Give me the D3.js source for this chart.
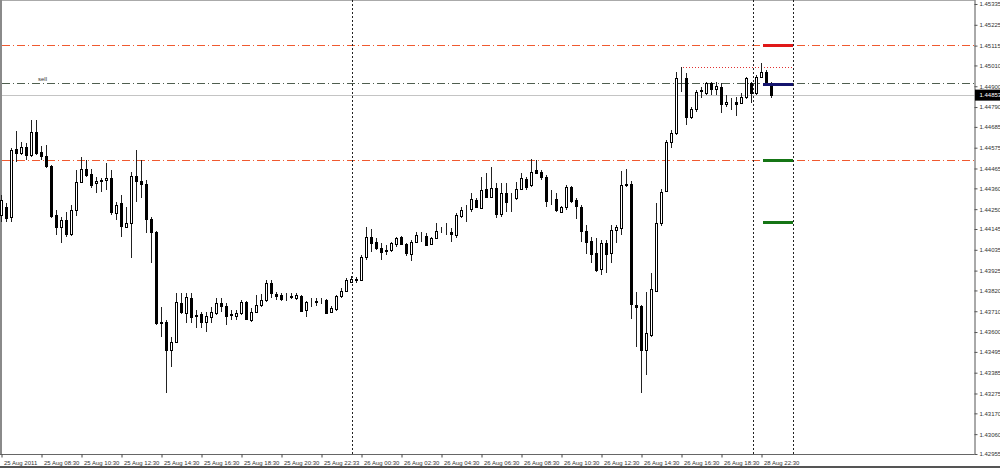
<!DOCTYPE html>
<html><head><meta charset="utf-8">
<script src="https://cdn.jsdelivr.net/npm/d3@7"></script>
<style>
html,body{margin:0;padding:0;background:#fff;}
svg{display:block;font-family:"Liberation Sans",Arial,sans-serif;}
</style></head>
<body>
<svg id="c" width="1000" height="468"></svg>
<script>
// ---- DATA (M15 candles, 25-28 Aug 2011) ----
const opens = [1.44219,1.44261,1.44208,1.44568,1.44547,1.44578,1.44536,1.44658,1.44552,1.44531,
1.44478,1.44219,1.44155,1.44192,1.44118,1.44245,1.44393,1.44462,1.44436,1.44388,
1.44399,1.44404,1.44414,1.44229,1.44282,1.44155,1.44176,1.44425,1.44399,1.44383,
1.44197,1.44129,1.43647,1.43653,1.43504,1.43547,1.43753,1.43700,1.43780,1.43684,
1.43695,1.43653,1.43679,1.43700,1.43753,1.43737,1.43690,1.43684,1.43700,1.43758,
1.43663,1.43706,1.43743,1.43769,1.43859,1.43801,1.43795,1.43780,1.43785,1.43780,
1.43790,1.43716,1.43758,1.43758,1.43764,1.43769,1.43706,1.43721,1.43790,1.43817,
1.43864,1.43875,1.43875,1.43996,1.44102,1.44076,1.44044,1.44028,1.44033,1.44065,
1.44102,1.44065,1.44012,1.44076,1.44108,1.44108,1.44065,1.44097,1.44134,1.44129,
1.44129,1.44113,1.44213,1.44250,1.44250,1.44298,1.44256,1.44356,1.44314,1.44361,
1.44224,1.44335,1.44309,1.44309,1.44356,1.44409,1.44377,1.44457,1.44446,1.44420,
1.44298,1.44303,1.44235,1.44261,1.44367,1.44298,1.44261,1.44134,1.44081,1.44018,
1.43933,1.44071,1.44018,1.44139,1.44150,1.44377,1.44383,1.43743,1.43737,1.43504,
1.43584,1.43817,1.44176,1.44346,1.44605,1.44652,1.44943,1.44943,1.44737,1.44779,
1.44875,1.44864,1.44917,1.44885,1.44896,1.44806,1.44816,1.44816,1.44811,1.44843,
1.44917,1.44864,1.44949,1.44975,1.44917];
const highs = [1.44324,1.44282,1.44573,1.44663,1.44605,1.44600,1.44721,1.44721,1.44584,1.44589,
1.44483,1.44245,1.44208,1.44235,1.44272,1.44457,1.44525,1.44510,1.44462,1.44420,
1.44414,1.44494,1.44457,1.44287,1.44324,1.44261,1.44446,1.44562,1.44510,1.44404,
1.44208,1.44134,1.43732,1.43663,1.43573,1.43806,1.43806,1.43806,1.43806,1.43716,
1.43706,1.43706,1.43732,1.43780,1.43780,1.43753,1.43716,1.43716,1.43769,1.43764,
1.43727,1.43795,1.43801,1.43875,1.43875,1.43811,1.43806,1.43806,1.43806,1.43806,
1.43795,1.43764,1.43780,1.43780,1.43780,1.43774,1.43737,1.43795,1.43832,1.43885,
1.43896,1.43891,1.44007,1.44155,1.44145,1.44097,1.44071,1.44060,1.44076,1.44102,
1.44108,1.44071,1.44086,1.44129,1.44129,1.44123,1.44102,1.44176,1.44155,1.44176,
1.44150,1.44229,1.44261,1.44272,1.44335,1.44309,1.44420,1.44441,1.44473,1.44388,
1.44388,1.44388,1.44335,1.44393,1.44441,1.44420,1.44515,1.44510,1.44457,1.44430,
1.44351,1.44335,1.44266,1.44377,1.44372,1.44309,1.44272,1.44166,1.44102,1.44097,
1.44086,1.44086,1.44166,1.44166,1.44451,1.44462,1.44399,1.43811,1.43743,1.43811,
1.43912,1.44282,1.44356,1.44615,1.44668,1.44975,1.45002,1.44970,1.44790,1.44880,
1.44896,1.44922,1.44922,1.44922,1.44917,1.44853,1.44838,1.44843,1.44864,1.44949,
1.44922,1.44959,1.45023,1.44986,1.44922];
const lows = [1.44182,1.44182,1.44182,1.44499,1.44536,1.44510,1.44525,1.44536,1.44510,1.44467,
1.44203,1.44113,1.44071,1.44102,1.44108,1.44213,1.44388,1.44420,1.44361,1.44335,
1.44340,1.44351,1.44219,1.44192,1.44102,1.44150,1.43991,1.44287,1.44309,1.44123,
1.43965,1.43637,1.43573,1.43277,1.43415,1.43542,1.43695,1.43647,1.43647,1.43621,
1.43621,1.43600,1.43647,1.43690,1.43706,1.43637,1.43663,1.43663,1.43690,1.43663,
1.43653,1.43700,1.43732,1.43758,1.43780,1.43769,1.43764,1.43764,1.43774,1.43769,
1.43706,1.43679,1.43732,1.43737,1.43748,1.43695,1.43700,1.43711,1.43780,1.43811,
1.43859,1.43859,1.43870,1.43981,1.44023,1.44033,1.43981,1.44007,1.44023,1.44049,
1.44060,1.44002,1.43975,1.44071,1.44076,1.44055,1.44060,1.44092,1.44123,1.44113,
1.44076,1.44097,1.44203,1.44182,1.44235,1.44256,1.44250,1.44309,1.44309,1.44203,
1.44208,1.44235,1.44235,1.44298,1.44351,1.44351,1.44367,1.44436,1.44404,1.44261,
1.44272,1.44235,1.44229,1.44245,1.44282,1.44197,1.44076,1.44012,1.43965,1.43917,
1.43901,1.43912,1.43965,1.44071,1.44113,1.44367,1.43668,1.43520,1.43277,1.43372,
1.43573,1.43811,1.44160,1.44340,1.44573,1.44642,1.44869,1.44695,1.44726,1.44764,
1.44838,1.44853,1.44853,1.44853,1.44758,1.44790,1.44774,1.44742,1.44806,1.44832,
1.44811,1.44853,1.44943,1.44906,1.44838];
const closes = [1.44298,1.44203,1.44562,1.44547,1.44578,1.44536,1.44658,1.44547,1.44531,1.44478,
1.44213,1.44155,1.44192,1.44118,1.44245,1.44393,1.44462,1.44430,1.44377,1.44399,
1.44404,1.44414,1.44235,1.44272,1.44160,1.44176,1.44425,1.44399,1.44383,1.44197,
1.44129,1.43647,1.43653,1.43504,1.43547,1.43758,1.43706,1.43785,1.43679,1.43690,
1.43653,1.43684,1.43706,1.43753,1.43737,1.43684,1.43695,1.43700,1.43758,1.43668,
1.43706,1.43743,1.43769,1.43859,1.43806,1.43790,1.43774,1.43780,1.43790,1.43795,
1.43711,1.43758,1.43758,1.43764,1.43764,1.43700,1.43727,1.43790,1.43817,1.43875,
1.43880,1.43880,1.43996,1.44102,1.44071,1.44044,1.44023,1.44033,1.44071,1.44097,
1.44065,1.44018,1.44076,1.44113,1.44108,1.44060,1.44097,1.44134,1.44134,1.44129,
1.44118,1.44219,1.44245,1.44250,1.44303,1.44261,1.44351,1.44314,1.44361,1.44224,
1.44335,1.44287,1.44309,1.44356,1.44414,1.44367,1.44446,1.44441,1.44420,1.44293,
1.44298,1.44245,1.44261,1.44367,1.44293,1.44266,1.44134,1.44076,1.44012,1.43928,
1.44071,1.44012,1.44139,1.44155,1.44377,1.44383,1.43748,1.43732,1.43504,1.43594,
1.43827,1.44176,1.44340,1.44605,1.44652,1.44943,1.44943,1.44737,1.44779,1.44869,
1.44880,1.44917,1.44885,1.44901,1.44806,1.44816,1.44816,1.44806,1.44843,1.44943,
1.44864,1.44949,1.44975,1.44917,1.44853];

const timeLabels = ["25 Aug 2011","25 Aug 08:30","25 Aug 10:30","25 Aug 12:30","25 Aug 14:30","25 Aug 16:30",
"25 Aug 18:30","25 Aug 20:30","25 Aug 22:33","26 Aug 00:30","26 Aug 02:30","26 Aug 04:30","26 Aug 06:30",
"26 Aug 08:30","26 Aug 10:30","26 Aug 12:30","26 Aug 14:30","26 Aug 16:30","26 Aug 18:30","28 Aug 22:30"];
const timeLabelBars = [0,8,16,24,32,40,48,56,64,72,80,88,96,104,112,120,128,136,144,152];
const priceTicks = [1.45335,1.45225,1.45115,1.45010,1.44900,1.44790,1.44685,1.44575,1.44465,1.44360,1.44250,
1.44145,1.44035,1.43925,1.43820,1.43710,1.43600,1.43495,1.43385,1.43275,1.43170,1.43060,1.42955];
const currentPrice = 1.44853;

// horizontal levels across the chart
const levelPrices = [1.45115, 1.44912, 1.44505];
const levelColors = ["#f05a30", "#4f5f4f", "#f05a30"];
// short trade markers at right
const markerPrices = [1.45115, 1.44909, 1.44505, 1.44182];
const markerColors = ["#e01818", "#14146e", "#157515", "#157515"];
const markerFromBar = 152.3, markerToBar = 158.3;
// dotted high line
const highLinePrice = 1.45004, highLineFromBar = 136.3;
// vertical separators (bar index)
const separatorBars = [70.1, 150.3, 158.3];

// ---- LAYOUT ----
const W = 1000, H = 468;
const plotRight = 974.5, plotBottom = 454.5;
const svg = d3.select("#c");

const n = opens.length;
const x = d3.scaleLinear().domain([0, n - 1]).range([1.5, 1.5 + 5 * (n - 1)]);
const y = d3.scaleLinear().domain([1.42955, 1.45335]).range([454, 4]);

// frame
svg.append("rect").attr("x",0).attr("y",0).attr("width",W).attr("height",H).attr("fill","#fff");
svg.append("line").attr("x1",0).attr("x2",plotRight).attr("y1",0.5).attr("y2",0.5).attr("stroke","#aaa");
svg.append("rect").attr("x",0).attr("y",0).attr("width",2).attr("height",plotBottom).attr("fill","#8a8a8a");
svg.append("line").attr("x1",0).attr("x2",plotRight).attr("y1",plotBottom).attr("y2",plotBottom).attr("stroke","#666");
svg.append("rect").attr("x",0).attr("y",466).attr("width",W).attr("height",2).attr("fill","#555");

// current price line
svg.append("line").attr("x1",2).attr("x2",plotRight).attr("y1",Math.round(y(currentPrice))+0.5).attr("y2",Math.round(y(currentPrice))+0.5)
  .attr("stroke","#c4c4c4").attr("stroke-width",1);

// horizontal levels
levelPrices.forEach((p,k)=>{
  const yy = Math.floor(y(p)) + 0.5;
  svg.append("path")
    .attr("d", `M2,${yy}H${plotRight}`)
    .attr("fill","none")
    .attr("stroke", levelColors[k]).attr("stroke-width",1).attr("stroke-dasharray","8,3,1,3");
});
svg.append("text").attr("x",38).attr("y",Math.round(y(levelPrices[1]))-3)
  .attr("font-size",6).attr("fill","#333").text("sell");

// vertical separators
svg.append("g").selectAll("line").data(separatorBars).join("line")
  .attr("x1",b=>Math.round(x(b))+0.5).attr("x2",b=>Math.round(x(b))+0.5)
  .attr("y1",0).attr("y2",plotBottom)
  .attr("stroke","#222").attr("stroke-width",1).attr("stroke-dasharray","2,2");

// dotted high line
svg.append("line").attr("x1",x(highLineFromBar)).attr("x2",x(markerToBar))
  .attr("y1",Math.round(y(highLinePrice))+0.5).attr("y2",Math.round(y(highLinePrice))+0.5)
  .attr("stroke","#e03030").attr("stroke-width",1).attr("stroke-dasharray","1,2");

// candles
const g = svg.append("g");
const idx = d3.range(n);
g.selectAll("line.w").data(idx).join("line").attr("class","w")
  .attr("x1",i=>x(i)).attr("x2",i=>x(i))
  .attr("y1",i=>Math.round(y(highs[i]))).attr("y2",i=>Math.round(y(lows[i])))
  .attr("stroke","#222").attr("stroke-width",1);
g.selectAll("rect.b").data(idx).join("rect").attr("class","b")
  .attr("x",i=>x(i)-1)
  .attr("y",i=>Math.round(y(Math.max(opens[i],closes[i])))+0.5)
  .attr("width",2)
  .attr("height",i=>Math.max(0,Math.round(y(Math.min(opens[i],closes[i])))-Math.round(y(Math.max(opens[i],closes[i])))))
  .attr("fill",i=>closes[i]>=opens[i]?"#fff":"#000")
  .attr("stroke","#000").attr("stroke-width",1);

// trade markers
svg.append("g").selectAll("line").data(markerPrices).join("line")
  .attr("x1",x(markerFromBar)).attr("x2",x(markerToBar))
  .attr("y1",p=>Math.floor(y(p))+0.5).attr("y2",p=>Math.floor(y(p))+0.5)
  .style("stroke",(p,k)=>markerColors[k]).attr("stroke-width",3);

// price axis
const yAxis = d3.axisRight(y).tickValues(priceTicks).tickSize(3).tickFormat(d=>d.toFixed(5));
const ya = svg.append("g").attr("transform",`translate(${plotRight},0)`).call(yAxis);
ya.select(".domain").attr("stroke","#555").attr("d",`M0.5,0V${plotBottom}`);
ya.selectAll(".tick line").attr("stroke","#555");
ya.selectAll(".tick text").attr("font-size",6).attr("fill","#333").attr("x",5)
  .attr("font-family","Liberation Sans, Arial, sans-serif");

// current price box
const cy = y(currentPrice);
svg.append("rect").attr("x",plotRight+0.5).attr("y",cy-5.5).attr("width",W-plotRight).attr("height",11).attr("fill","#000");
svg.append("text").attr("x",plotRight+5).attr("y",cy).attr("dy","0.35em").attr("font-size",6)
  .attr("fill","#fff").text(currentPrice.toFixed(5));

// time axis
const xAxis = d3.axisBottom(x).tickValues(timeLabelBars).tickSize(3)
  .tickFormat((d,k)=>timeLabels[k]);
const xa = svg.append("g").attr("transform",`translate(0,${plotBottom})`).call(xAxis);
xa.select(".domain").remove();
xa.selectAll(".tick line").attr("stroke","#444");
xa.selectAll(".tick text").attr("font-size",6).attr("fill","#333").attr("text-anchor","start")
  .attr("x",2).attr("y",6).attr("font-family","Liberation Sans, Arial, sans-serif");
</script>
</body></html>
